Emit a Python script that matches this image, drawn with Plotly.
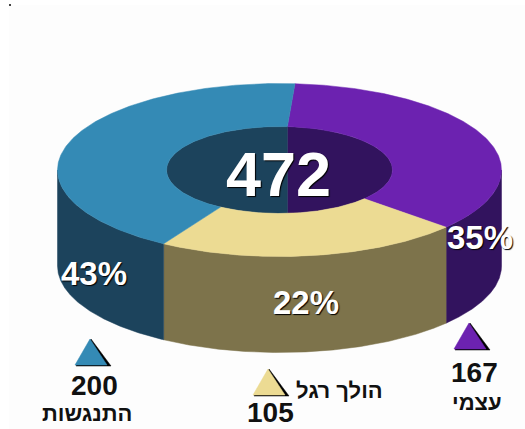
import numpy as np
import plotly.graph_objects as go

categories = ["עצמי", "הולך רגל", "התנגשות"]
values = [167, 105, 200]
percent_labels = ["35%", "22%", "43%"]
total_label = "472"
top_colors = ["#6C22B0", "#ECDB93", "#348AB5"]
side_colors = ["#32135E", "#7D734B", "#1C435C"]

CX, CY, RX, RY = 279.5, 170.0, 222.0, 86.5
IRX, IRY = 113.0, 43.5
DEPTH = 96.0
START = 4.0


def arc(a0, a1, rx, ry, dy=0.0):
    t = np.radians(np.linspace(a0, a1, 240))
    return CX + rx * np.sin(t), CY + dy - ry * np.cos(t)


def poly(fig, x, y, color):
    fig.add_trace(go.Scatter(x=list(x) + [x[0]], y=list(y) + [y[0]], mode="lines",
                             fill="toself", fillcolor=color,
                             line=dict(color=color, width=0.5),
                             hoverinfo="skip", showlegend=False))


fractions = np.array(values) / sum(values)
edges = START + 360 * np.concatenate([[0], np.cumsum(fractions)])

fig = go.Figure()

# outer walls: only the front half of the ring (90..270 degrees) is visible
for i in range(3):
    a0, a1 = max(edges[i], 90), min(edges[i + 1], 270)
    if a1 > a0:
        xa, ya = arc(a0, a1, RX, RY)
        xb, yb = arc(a1, a0, RX, RY, DEPTH)
        poly(fig, np.r_[xa, xb], np.r_[ya, yb], side_colors[i])

# hole: far inner wall, divided where the first slice starts
xh, yh = arc(START, 180 - START, IRX, IRY)
poly(fig, xh, yh, side_colors[0])
xh, yh = arc(180 - START, 360 + START, IRX, IRY)
poly(fig, xh, yh, side_colors[2])

# top face of the ring
for i in range(3):
    xo, yo = arc(edges[i], edges[i + 1], RX, RY)
    xi, yi = arc(edges[i + 1], edges[i], IRX, IRY)
    poly(fig, np.r_[xo, xi], np.r_[yo, yi], top_colors[i])

# legend triangles: black edge behind, colour in front
apex_x = [469, 268, 90]
apex_y = [323, 369, 339]
for ax, ay, color in zip(apex_x, apex_y, top_colors):
    poly(fig, [ax + 1, ax + 21, ax - 14], [ay, ay + 27, ay + 27], "#000000")
    poly(fig, [ax, ax + 17, ax - 15], [ay, ay + 26, ay + 26], color)

SHADOW = "1px 1px 1px #000000"
FONT = "Liberation Sans, Arial, sans-serif"
ann = []


def label(x, y, text, size, color, shadow="none"):
    ann.append(dict(x=x, y=y, text=text, showarrow=False, xanchor="center", yanchor="middle",
                    font=dict(family=FONT, size=size, color=color, shadow=shadow, weight="bold")))


label(278, 174, total_label, 63, "#FFFFFF", SHADOW)
label(479.5, 237, percent_labels[0], 33, "#FFFFFF", SHADOW)
label(305.5, 302, percent_labels[1], 33, "#FFFFFF", SHADOW)
label(93.5, 273, percent_labels[2], 33, "#FFFFFF", SHADOW)
label(474, 372, str(values[0]), 28, "#111111")
label(270, 412.5, str(values[1]), 28, "#111111")
label(94, 385, str(values[2]), 28, "#111111")
label(477, 402, categories[0], 22, "#111111")
label(339, 390, categories[1], 22, "#111111")
label(87, 413, categories[2], 22, "#111111")

fig.update_layout(
    width=525, height=429, autosize=False,
    margin=dict(l=0, r=0, t=0, b=0),
    paper_bgcolor="#FFFFFF", plot_bgcolor="#FFFFFF",
    showlegend=False, annotations=ann,
    xaxis=dict(range=[0, 525], visible=False, fixedrange=True),
    yaxis=dict(range=[429, 0], visible=False, fixedrange=True),
    shapes=[
        dict(type="rect", x0=9, x1=525, y0=5, y1=429, layer="below",
             fillcolor="#FDFDFD", line=dict(width=0)),
        dict(type="rect", x0=9, x1=11, y0=4, y1=6, layer="below",
             fillcolor="#444444", line=dict(width=0)),
    ],
)
fig.write_html(
    "out.html",
    config={"displayModeBar": False, "responsive": False},
    post_script="document.body.style.margin='0';document.documentElement.style.overflow='hidden';",
)
